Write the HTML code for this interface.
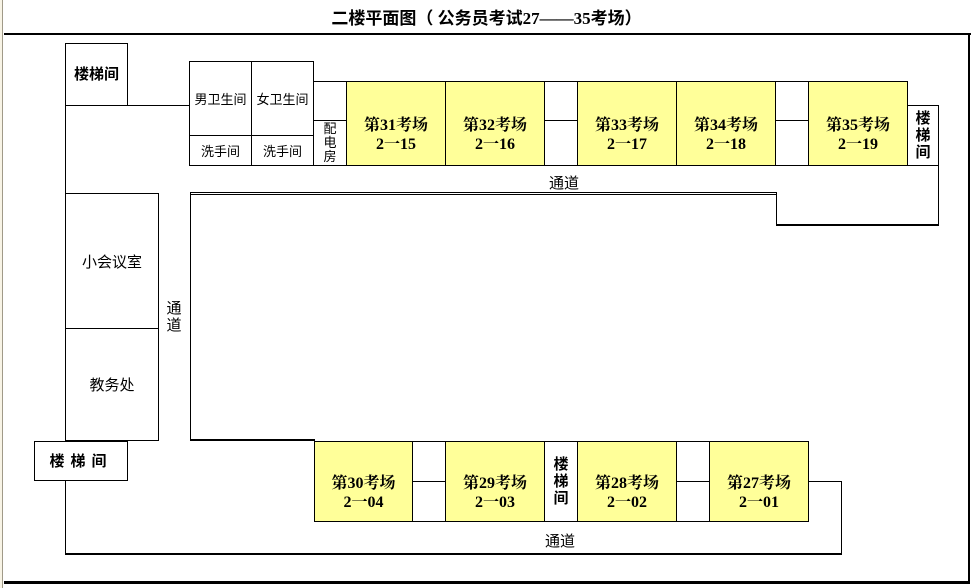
<!DOCTYPE html>
<html><head><meta charset="utf-8"><style>
body{margin:0;width:973px;height:588px;background:#fff;position:relative;overflow:hidden;font-family:"Liberation Serif","Noto Serif CJK SC","Noto Sans CJK SC",serif;}
div{position:absolute;box-sizing:border-box;}
.b{border:1px solid #000;}
.h{height:0;border-top:1px solid #000;}
.v{width:0;border-left:1px solid #000;}
.y{background:#ffff99;border:1px solid #000;display:flex;align-items:center;justify-content:center;text-align:center;font-weight:bold;font-size:16px;line-height:19px;padding-top:23px;}
.t{display:flex;align-items:center;justify-content:center;text-align:center;font-family:"Liberation Sans","Noto Sans CJK SC",sans-serif;font-size:13px;}
.s{font-weight:bold;font-size:15px;line-height:17px;font-family:"Liberation Sans","Noto Sans CJK SC",sans-serif;}
</style></head><body>
<div style="left:0;top:0;width:3px;height:588px;background:#f8f4e6;border-right:1px solid #a09a88"></div>
<div style="left:0;top:4px;width:973px;text-align:center;font-weight:bold;font-size:17px;font-family:'Liberation Serif','Noto Sans CJK SC',sans-serif">二楼平面图（ 公务员考试27——35考场）</div>
<div style="left:4px;top:33px;width:967px;height:2px;background:#000"></div>
<div style="left:968px;top:33px;width:2px;height:551px;background:#000"></div>
<div style="left:4px;top:581px;width:966px;height:3px;background:#000"></div>

<div class="b t s" style="left:65px;top:43px;width:63px;height:63px;font-size:15px">楼梯间</div>
<div class="h" style="left:127px;top:105px;width:63px"></div>
<div class="v" style="left:65px;top:105px;height:90px"></div>
<div class="b t" style="left:65px;top:193px;width:94px;height:136px;font-size:15px">小会议室</div>
<div class="b t" style="left:65px;top:328px;width:94px;height:113px;font-size:15px">教务处</div>
<div class="v" style="left:65px;top:480px;height:75px"></div>
<div class="b t s" style="left:34px;top:441px;width:94px;height:40px;letter-spacing:6px">楼梯间</div>
<div style="left:65px;top:553px;width:777px;height:2px;background:#000"></div>
<div class="v" style="left:841px;top:481px;height:74px"></div>
<div class="h" style="left:808px;top:481px;width:34px"></div>
<div class="t" style="left:518px;top:530px;width:84px;font-size:15px">通道</div>

<div class="t" style="left:162px;top:300px;width:24px;font-size:15px;line-height:17px">通<br>道</div>
<div class="v" style="left:190px;top:193px;height:248px"></div>
<div style="left:190px;top:192px;width:587px;height:3px;border-top:1px solid #000;border-bottom:1px solid #000"></div>
<div class="v" style="left:776px;top:193px;height:33px"></div>
<div style="left:776px;top:224px;width:163px;height:2px;background:#000"></div>
<div class="v" style="left:938px;top:165px;height:60px"></div>
<div style="left:190px;top:439px;width:125px;height:2px;background:#000"></div>

<div class="b t" style="left:189px;top:61px;width:63px;height:75px">男卫生间</div>
<div class="b t" style="left:251px;top:61px;width:63px;height:75px">女卫生间</div>
<div class="b t" style="left:189px;top:135px;width:63px;height:31px">洗手间</div>
<div class="b t" style="left:251px;top:135px;width:63px;height:31px">洗手间</div>
<div class="b" style="left:313px;top:81px;width:34px;height:40px"></div>
<div class="b t" style="left:313px;top:120px;width:34px;height:46px;line-height:14px">配<br>电<br>房</div>
<div class="y" style="left:346px;top:81px;width:100px;height:85px">第31考场<br>2一15</div>
<div class="y" style="left:445px;top:81px;width:100px;height:85px">第32考场<br>2一16</div>
<div class="b" style="left:544px;top:81px;width:34px;height:40px"></div>
<div class="b" style="left:544px;top:120px;width:34px;height:46px"></div>
<div class="y" style="left:577px;top:81px;width:100px;height:85px">第33考场<br>2一17</div>
<div class="y" style="left:676px;top:81px;width:100px;height:85px">第34考场<br>2一18</div>
<div class="b" style="left:775px;top:81px;width:34px;height:40px"></div>
<div class="b" style="left:775px;top:120px;width:34px;height:46px"></div>
<div class="y" style="left:808px;top:81px;width:100px;height:85px">第35考场<br>2一19</div>
<div class="b t s" style="left:907px;top:105px;width:32px;height:61px">楼<br>梯<br>间</div>
<div class="h" style="left:189px;top:165px;width:750px"></div>
<div class="t" style="left:522px;top:172px;width:84px;font-size:15px">通道</div>

<div class="y" style="left:314px;top:441px;width:99px;height:81px">第30考场<br>2一04</div>
<div class="b" style="left:412px;top:441px;width:34px;height:41px"></div>
<div class="b" style="left:412px;top:481px;width:34px;height:41px"></div>
<div class="y" style="left:445px;top:441px;width:100px;height:81px">第29考场<br>2一03</div>
<div class="b t s" style="left:544px;top:441px;width:34px;height:81px">楼<br>梯<br>间</div>
<div class="y" style="left:577px;top:441px;width:100px;height:81px">第28考场<br>2一02</div>
<div class="b" style="left:676px;top:441px;width:34px;height:41px"></div>
<div class="b" style="left:676px;top:481px;width:34px;height:41px"></div>
<div class="y" style="left:709px;top:441px;width:100px;height:81px">第27考场<br>2一01</div>
</body></html>
